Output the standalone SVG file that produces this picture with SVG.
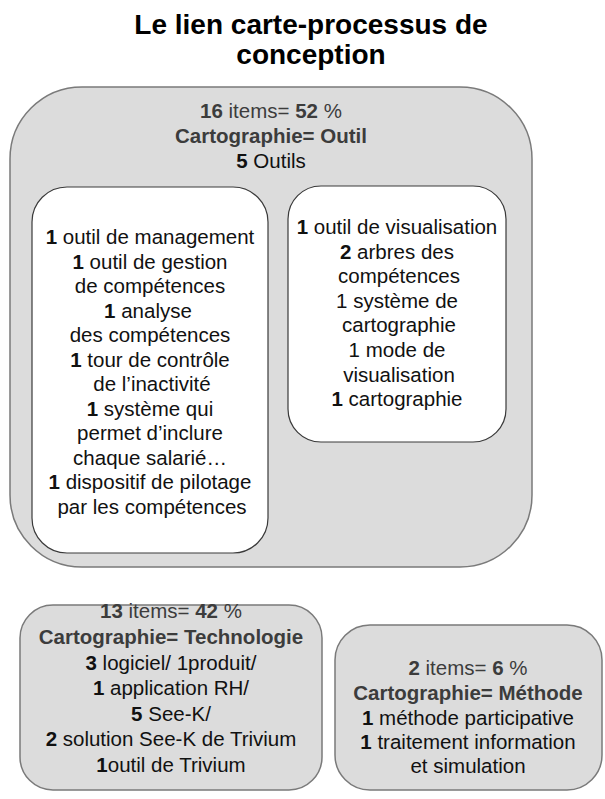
<svg xmlns="http://www.w3.org/2000/svg" width="605" height="799" viewBox="0 0 605 799">
<style>
text{font-family:"Liberation Sans",Arial,sans-serif;font-size:20.5px;text-anchor:middle;fill:#111}
.title{font-size:28px;font-weight:bold;fill:#000}
.g{fill:#3c3c3c}
.b{font-weight:bold}
.grey{fill:#dcdcdc;stroke:#7a7a7a;stroke-width:1.5}
.white{fill:#fff;stroke:#3a3a3a;stroke-width:1.2}
</style>
<rect width="605" height="799" fill="#fff"/>
<g id="title">
<text class="title" x="311" y="34">Le lien carte-processus de</text>
<text class="title" x="311" y="64">conception</text>
</g>
<g id="outil">
<rect class="grey" x="10" y="87" width="522" height="480" rx="72" ry="72"/>
<text class="g" x="271" y="118"><tspan class="b">16</tspan> items= <tspan class="b">52</tspan> %</text>
<text class="g b" x="271" y="143">Cartographie= Outil</text>
<text x="271" y="168"><tspan class="b">5</tspan> Outils</text>
</g>
<g id="outils-gestion">
<rect class="white" x="32" y="187" width="236" height="366" rx="35" ry="35"/>
<text x="150" y="244"><tspan class="b">1</tspan> outil de management</text>
<text x="150" y="268.5"><tspan class="b">1</tspan> outil de gestion</text>
<text x="150" y="293">de compétences</text>
<text x="148" y="317.5"><tspan class="b">1</tspan> analyse</text>
<text x="150" y="342">des compétences</text>
<text x="150" y="366.5"><tspan class="b">1</tspan> tour de contrôle</text>
<text x="152" y="391">de l’inactivité</text>
<text x="150" y="415.5"><tspan class="b">1</tspan> système qui</text>
<text x="150" y="440">permet d’inclure</text>
<text x="150" y="464.5">chaque salarié…</text>
<text x="150" y="489"><tspan class="b">1</tspan> dispositif de pilotage</text>
<text x="152" y="513.5">par les compétences</text>
</g>
<g id="outils-visualisation">
<rect class="white" x="288" y="186" width="218" height="256" rx="33" ry="33"/>
<text x="397" y="234"><tspan class="b">1</tspan> outil de visualisation</text>
<text x="397" y="258.6"><tspan class="b">2</tspan> arbres des</text>
<text x="399" y="283.2">compétences</text>
<text x="397" y="307.8">1 système de</text>
<text x="399" y="332.4">cartographie</text>
<text x="397" y="357">1 mode de</text>
<text x="399" y="381.6">visualisation</text>
<text x="397" y="406.2"><tspan class="b">1</tspan> cartographie</text>
</g>
<g id="technologie">
<rect class="grey" x="20" y="605" width="302" height="185" rx="33" ry="33"/>
<text class="g" x="171" y="618"><tspan class="b">13</tspan> items= <tspan class="b">42</tspan> %</text>
<text class="g b" x="171" y="644">Cartographie= Technologie</text>
<text x="171" y="669.5"><tspan class="b">3</tspan> logiciel/ 1produit/</text>
<text x="171" y="695"><tspan class="b">1</tspan> application RH/</text>
<text x="171" y="720.5"><tspan class="b">5</tspan> See-K/</text>
<text x="171" y="746"><tspan class="b">2</tspan> solution See-K de Trivium</text>
<text x="171" y="771.5"><tspan class="b">1</tspan>outil de Trivium</text>
</g>
<g id="methode">
<rect class="grey" x="335" y="625" width="267" height="165" rx="35" ry="35"/>
<text class="g" x="468" y="675"><tspan class="b">2</tspan> items= <tspan class="b">6</tspan> %</text>
<text class="g b" x="468" y="700">Cartographie= Méthode</text>
<text x="468" y="725"><tspan class="b">1</tspan> méthode participative</text>
<text x="468" y="749"><tspan class="b">1</tspan> traitement information</text>
<text x="468" y="773">et simulation</text>
</g>
<g id="connectors"></g>
</svg>
